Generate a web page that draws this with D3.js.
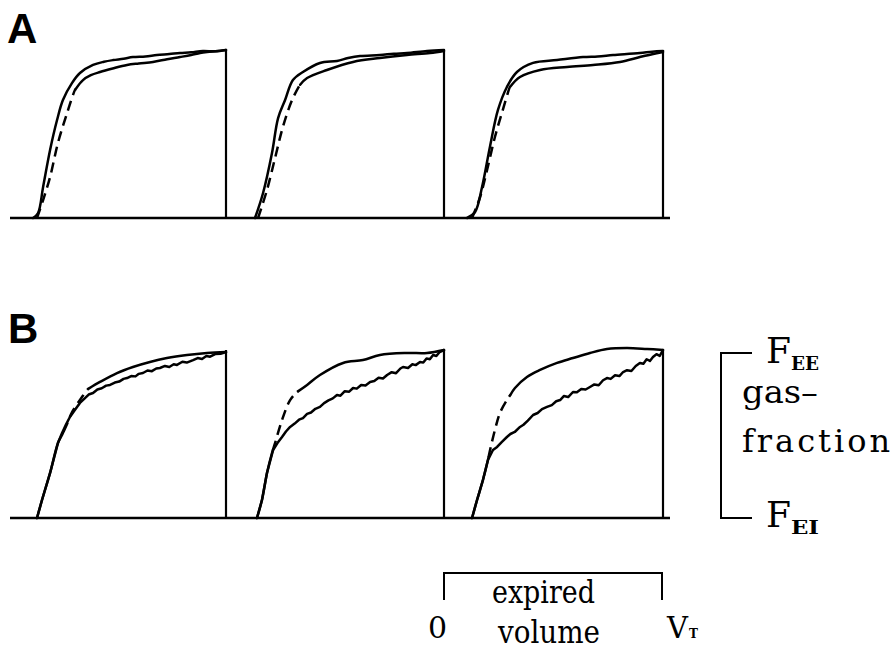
<!DOCTYPE html>
<html>
<head>
<meta charset="utf-8">
<script src="https://cdn.jsdelivr.net/npm/d3@7"></script>
<style>
  html, body { margin: 0; padding: 0; background: #fff; }
  svg { display: block; }
</style>
</head>
<body>
<svg id="chart" width="895" height="652"></svg>
<script>
// ---------- DATA (normalized expired volume v in [0,1], gas fraction f in [0,1]) ----------
const rowLabels = ["A", "B"];

// Row A
const a1Solid = [[0.115,0],[0.138,0.03],[0.161,0.185],[0.193,0.405],[0.225,0.583],[0.252,0.702],[0.294,0.804],[0.330,0.863],[0.390,0.911],[0.440,0.930],[0.482,0.940],[0.530,0.948],[0.573,0.958],[0.630,0.962],[0.683,0.970],[0.740,0.976],[0.789,0.982],[0.840,0.986],[0.894,0.994],[0.950,0.992],[1,1]];
const a1Dashed = [[0.133,0],[0.161,0.107],[0.193,0.244],[0.229,0.446],[0.271,0.625],[0.307,0.762],[0.344,0.821],[0.380,0.850],[0.422,0.869],[0.480,0.890],[0.546,0.911],[0.600,0.920],[0.665,0.929],[0.730,0.945],[0.789,0.958],[0.840,0.970],[0.881,0.982],[0.913,0.988],[0.960,0.994],[1,1]];
const a2Solid = [[0.133,0],[0.170,0.149],[0.211,0.387],[0.239,0.595],[0.271,0.702],[0.307,0.821],[0.353,0.869],[0.431,0.923],[0.509,0.935],[0.560,0.952],[0.615,0.964],[0.706,0.970],[0.770,0.978],[0.830,0.982],[0.922,0.994],[1,1]];
const a2Dashed = [[0.147,0],[0.188,0.167],[0.225,0.357],[0.261,0.542],[0.303,0.702],[0.339,0.792],[0.372,0.833],[0.463,0.881],[0.583,0.929],[0.706,0.952],[0.830,0.970],[0.936,0.982],[1,0.994]];
const a3Solid = [[0.101,0],[0.138,0.036],[0.170,0.185],[0.206,0.423],[0.243,0.643],[0.284,0.780],[0.330,0.869],[0.404,0.923],[0.514,0.940],[0.633,0.958],[0.700,0.962],[0.771,0.970],[0.894,0.982],[0.950,0.990],[1,0.994]];
const a3Dashed = [[0.124,0],[0.161,0.125],[0.193,0.286],[0.229,0.482],[0.261,0.625],[0.298,0.780],[0.344,0.839],[0.436,0.881],[0.560,0.899],[0.679,0.911],[0.803,0.929],[0.894,0.958],[0.950,0.975],[1,0.988]];

// Row B (lower = measured, jagged; upper = dashed around the knee, solid elsewhere)
const b1Lower = [[0.133,0],[0.156,0.107],[0.193,0.268],[0.229,0.446],[0.248,0.506],[0.266,0.556],[0.284,0.601],[0.305,0.640],[0.330,0.685],[0.352,0.712],[0.370,0.735],[0.390,0.744],[0.410,0.765],[0.430,0.772],[0.450,0.788],[0.468,0.792],[0.490,0.806],[0.510,0.812],[0.530,0.828],[0.546,0.833],[0.565,0.845],[0.585,0.843],[0.600,0.858],[0.619,0.863],[0.640,0.878],[0.660,0.874],[0.680,0.890],[0.697,0.893],[0.720,0.905],[0.740,0.899],[0.760,0.915],[0.775,0.911],[0.800,0.930],[0.820,0.925],[0.849,0.940],[0.870,0.952],[0.890,0.946],[0.910,0.964],[0.927,0.960],[0.950,0.976],[0.975,0.978],[1,0.988]];
const b1Upper = [[0.133,0],[0.156,0.107],[0.193,0.268],[0.229,0.446],[0.250,0.500],[0.271,0.560],[0.294,0.631],[0.330,0.702],[0.367,0.768],[0.422,0.810],[0.500,0.863],[0.573,0.899],[0.651,0.929],[0.729,0.952],[0.821,0.970],[0.913,0.982],[1,0.988]];
const b2Lower = [[0.142,0],[0.165,0.107],[0.188,0.268],[0.216,0.405],[0.236,0.446],[0.257,0.482],[0.275,0.515],[0.294,0.542],[0.315,0.562],[0.335,0.585],[0.353,0.595],[0.372,0.620],[0.390,0.628],[0.410,0.650],[0.431,0.661],[0.450,0.684],[0.470,0.700],[0.490,0.712],[0.509,0.732],[0.525,0.728],[0.545,0.755],[0.565,0.752],[0.583,0.774],[0.600,0.770],[0.620,0.792],[0.640,0.789],[0.661,0.810],[0.680,0.815],[0.700,0.835],[0.720,0.830],[0.739,0.851],[0.760,0.868],[0.780,0.862],[0.800,0.890],[0.812,0.899],[0.835,0.893],[0.855,0.915],[0.870,0.910],[0.890,0.929],[0.905,0.925],[0.920,0.950],[0.935,0.945],[0.950,0.970],[0.965,0.964],[0.980,0.988],[1,1]];
const b2Upper = [[0.142,0],[0.165,0.107],[0.188,0.268],[0.211,0.387],[0.225,0.446],[0.257,0.583],[0.294,0.702],[0.326,0.750],[0.372,0.792],[0.431,0.851],[0.537,0.923],[0.628,0.940],[0.706,0.970],[0.830,0.982],[0.922,0.982],[1,1]];
const b3Lower = [[0.124,0],[0.147,0.107],[0.174,0.226],[0.197,0.345],[0.220,0.405],[0.239,0.423],[0.260,0.452],[0.284,0.482],[0.300,0.500],[0.320,0.512],[0.344,0.542],[0.360,0.555],[0.380,0.580],[0.404,0.613],[0.425,0.625],[0.445,0.648],[0.468,0.661],[0.490,0.672],[0.510,0.695],[0.528,0.702],[0.545,0.726],[0.565,0.720],[0.587,0.750],[0.605,0.748],[0.625,0.768],[0.645,0.765],[0.665,0.780],[0.685,0.795],[0.705,0.790],[0.725,0.820],[0.743,0.833],[0.760,0.828],[0.780,0.850],[0.800,0.845],[0.817,0.869],[0.835,0.880],[0.855,0.875],[0.875,0.905],[0.894,0.923],[0.910,0.918],[0.925,0.945],[0.940,0.935],[0.954,0.958],[0.970,0.975],[0.985,0.965],[1,1]];
const b3Upper = [[0.124,0],[0.147,0.107],[0.174,0.226],[0.197,0.345],[0.206,0.400],[0.229,0.524],[0.252,0.625],[0.284,0.702],[0.321,0.774],[0.376,0.839],[0.436,0.881],[0.514,0.923],[0.587,0.952],[0.665,0.982],[0.743,1.006],[0.835,1.012],[0.927,1.006],[1,1]];

// dashed v-ranges
const aDashTo = [0.31, 0.34, 0.30];
const bDashRange = [[0.255, 0.37], [0.215, 0.33], [0.200, 0.30]];

// legend / scale texts
const yLegendTop = "F", yLegendTopSub = "EE";
const yLegendBottom = "F", yLegendBottomSub = "EI";
const yLegendWords = ["gas\u2013", "fraction"];
const xScaleLabels = ["0", "expired", "volume", "V", "T"];

// ---------- LAYOUT ----------
const svg = d3.select("#chart");
const panelRights = [226, 444, 663];
const panelW = 218;
const rows = [{top: 50, base: 218}, {top: 350, base: 518}];
const lw = 2.5;

function xScale(i) { return d3.scaleLinear().domain([0, 1]).range([panelRights[i] - panelW, panelRights[i]]); }
function yScale(r) { return d3.scaleLinear().domain([0, 1]).range([rows[r].base, rows[r].top]); }

function interp(a, b, v) { const t = (v - a[0]) / (b[0] - a[0]); return [v, a[1] + t * (b[1] - a[1])]; }
function slice(data, v0, v1) {
  const out = [];
  for (let k = 0; k < data.length; k++) {
    const p = data[k];
    if (k > 0) {
      const q = data[k - 1];
      if (q[0] < v0 && p[0] > v0) out.push(interp(q, p, v0));
    }
    if (p[0] >= v0 && p[0] <= v1) out.push(p);
    if (k > 0) {
      const q = data[k - 1];
      if (q[0] < v1 && p[0] > v1) out.push(interp(q, p, v1));
    }
  }
  return out;
}

function draw(r, i, data, dashed, curve) {
  const x = xScale(i), y = yScale(r);
  const line = d3.line().x(d => x(d[0])).y(d => y(d[1])).curve(curve || d3.curveCatmullRom.alpha(0.5));
  svg.append("path").datum(data).attr("d", line)
    .attr("fill", "none").attr("stroke", "#000").attr("stroke-width", lw)
    .attr("stroke-linejoin", "round").attr("stroke-linecap", dashed ? "butt" : "round")
    .attr("stroke-dasharray", dashed ? "10,6" : null);
}

// baselines + right verticals
rows.forEach((row, r) => {
  svg.append("line").attr("x1", 10).attr("x2", 670).attr("y1", row.base).attr("y2", row.base)
    .attr("stroke", "#000").attr("stroke-width", 2.6);
  panelRights.forEach((R, i) => {
    const x = xScale(i), y = yScale(r);
    svg.append("line").attr("x1", x(1)).attr("x2", x(1)).attr("y1", y(0)).attr("y2", y(1))
      .attr("stroke", "#000").attr("stroke-width", 2.2);
  });
});

// Row A
const aSolid = [a1Solid, a2Solid, a3Solid];
const aDash = [a1Dashed, a2Dashed, a3Dashed];
for (let i = 0; i < 3; i++) {
  draw(0, i, aSolid[i], false);
  draw(0, i, slice(aDash[i], 0, aDashTo[i]), true);
  draw(0, i, slice(aDash[i], aDashTo[i], 1), false);
}
// Row B
const bLower = [b1Lower, b2Lower, b3Lower];
const bUpper = [b1Upper, b2Upper, b3Upper];
for (let i = 0; i < 3; i++) {
  draw(1, i, bLower[i], false, d3.curveLinear);
  const [d0, d1] = bDashRange[i];
  draw(1, i, slice(bUpper[i], 0, d0), false);
  draw(1, i, slice(bUpper[i], d0, d1), true);
  draw(1, i, slice(bUpper[i], d1, 1), false);
}

// Row letters
const letterFont = "'Liberation Sans', Arial, sans-serif";
svg.append("text").attr("x", 7).attr("y", 43).text(rowLabels[0])
  .attr("font-family", letterFont).attr("font-weight", "bold").attr("font-size", 42);
svg.append("text").attr("x", 8).attr("y", 343).text(rowLabels[1])
  .attr("font-family", letterFont).attr("font-weight", "bold").attr("font-size", 42);

// Right legend bracket
const serif = "'DejaVu Serif', 'Liberation Serif', serif";
const bTop = rows[1].top + 3, bBot = rows[1].base;
svg.append("path").attr("d", `M752,${bTop} H721 V${bBot} H752`)
  .attr("fill", "none").attr("stroke", "#000").attr("stroke-width", 2);
function subLabel(x, y, main, sub) {
  const t = svg.append("text").attr("x", x).attr("y", y).attr("font-family", serif).attr("font-size", 36);
  t.append("tspan").text(main);
  t.append("tspan").attr("font-size", 19).attr("font-weight", "bold").attr("dx", 0).attr("dy", 7)
    .attr("textLength", 28).attr("lengthAdjust", "spacingAndGlyphs").text(sub);
}
subLabel(766, bTop + 10, yLegendTop, yLegendTopSub);
subLabel(766, bBot + 9, yLegendBottom, yLegendBottomSub);
svg.append("text").attr("x", 742).attr("y", 403).attr("font-family", serif).attr("font-size", 32)
  .attr("textLength", 76).attr("lengthAdjust", "spacingAndGlyphs").text(yLegendWords[0]);
svg.append("text").attr("x", 742).attr("y", 452).attr("font-family", serif).attr("font-size", 32)
  .attr("textLength", 148).attr("lengthAdjust", "spacing").text(yLegendWords[1]);

// Bottom volume scale bar
const sx = xScale(2);
svg.append("path").attr("d", `M${sx(0) - 1},600 V573 H${sx(1) - 1} V600`)
  .attr("fill", "none").attr("stroke", "#000").attr("stroke-width", 2);
svg.append("text").attr("x", 428).attr("y", 638).attr("font-family", serif).attr("font-size", 30).text(xScaleLabels[0]);
svg.append("text").attr("x", 492).attr("y", 603).attr("font-family", serif).attr("font-size", 32)
  .attr("textLength", 103).attr("lengthAdjust", "spacingAndGlyphs").text(xScaleLabels[1]);
svg.append("text").attr("x", 498).attr("y", 643).attr("font-family", serif).attr("font-size", 31)
  .attr("textLength", 102).attr("lengthAdjust", "spacingAndGlyphs").text(xScaleLabels[2]);
const vt = svg.append("text").attr("x", 667).attr("y", 638).attr("font-family", serif).attr("font-size", 29);
vt.append("tspan").text(xScaleLabels[3]);
vt.append("tspan").attr("font-size", 12).attr("font-weight", "bold").attr("dx", 1).text(xScaleLabels[4]);
</script>
</body>
</html>
